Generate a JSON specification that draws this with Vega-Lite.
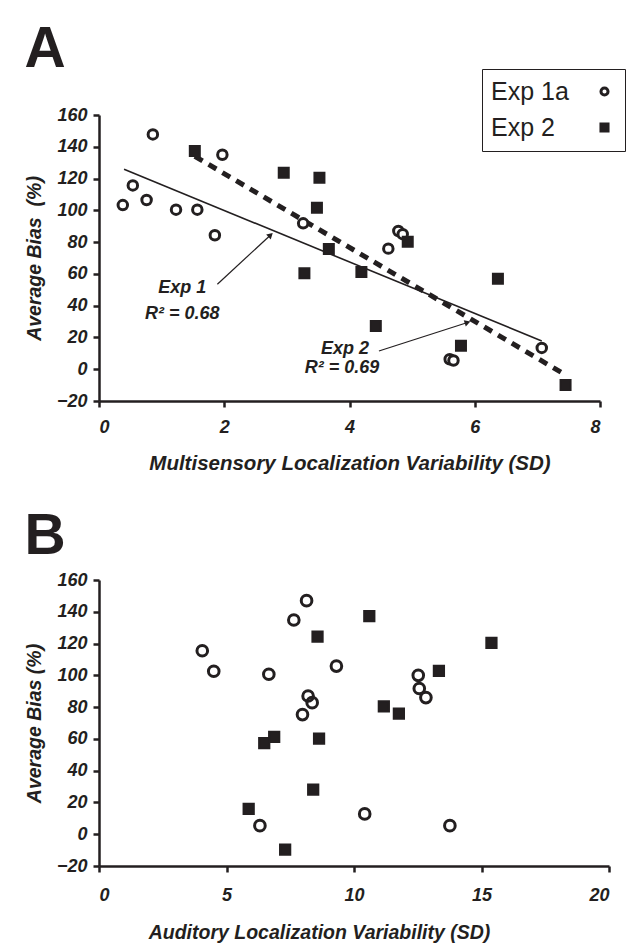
{
  "$schema": "https://vega.github.io/schema/vega-lite/v6.json",
  "padding": {"left": 24, "top": 20, "right": 5, "bottom": 2},
  "spacing": 33,
  "background": "white",
  "config": {
    "font": "Liberation Sans",
    "view": {"stroke": null},
    "axis": {
      "grid": false,
      "domainColor": "#231f20", "domainWidth": 2.5,
      "tickColor": "#231f20", "tickWidth": 2.5, "tickSize": 6,
      "labelFont": "Liberation Sans", "labelFontSize": 18, "labelFontWeight": "bold", "labelFontStyle": "italic", "labelColor": "#231f20",
      "titleFont": "Liberation Sans", "titleFontSize": 19.5, "titleFontWeight": "bold", "titleFontStyle": "italic", "titleColor": "#231f20"
    },
    "axisX": {"labelPadding": 11, "titlePadding": 15},
    "axisY": {"labelPadding": 6, "titlePadding": 12},
    "title": {"anchor": "start", "fontSize": 57, "fontWeight": "bold", "color": "#231f20", "font": "Liberation Sans"}
  },
  "datasets": {
    "pointsA": [
      {"series": "Exp 1a", "x": 0.38, "y": 103.3},
      {"series": "Exp 1a", "x": 0.54, "y": 115.7},
      {"series": "Exp 1a", "x": 0.76, "y": 106.5},
      {"series": "Exp 1a", "x": 0.86, "y": 147.8},
      {"series": "Exp 1a", "x": 1.23, "y": 100.4},
      {"series": "Exp 1a", "x": 1.57, "y": 100.4},
      {"series": "Exp 1a", "x": 1.85, "y": 84.3},
      {"series": "Exp 1a", "x": 1.97, "y": 135},
      {"series": "Exp 1a", "x": 3.26, "y": 91.8},
      {"series": "Exp 1a", "x": 4.62, "y": 75.9},
      {"series": "Exp 1a", "x": 4.78, "y": 87},
      {"series": "Exp 1a", "x": 4.85, "y": 85},
      {"series": "Exp 1a", "x": 5.6, "y": 6.3},
      {"series": "Exp 1a", "x": 5.66, "y": 5.5},
      {"series": "Exp 1a", "x": 7.07, "y": 13.4},
      {"series": "Exp 2", "x": 1.53, "y": 137.3},
      {"series": "Exp 2", "x": 2.95, "y": 123.7},
      {"series": "Exp 2", "x": 3.28, "y": 60.4},
      {"series": "Exp 2", "x": 3.48, "y": 101.7},
      {"series": "Exp 2", "x": 3.52, "y": 120.5},
      {"series": "Exp 2", "x": 3.67, "y": 75.7},
      {"series": "Exp 2", "x": 4.19, "y": 61.2},
      {"series": "Exp 2", "x": 4.42, "y": 27.2},
      {"series": "Exp 2", "x": 4.93, "y": 80.3},
      {"series": "Exp 2", "x": 5.78, "y": 14.7},
      {"series": "Exp 2", "x": 6.37, "y": 57},
      {"series": "Exp 2", "x": 7.45, "y": -10}
    ],
    "pointsB": [
      {"series": "Exp 1a", "x": 4.05, "y": 115.5},
      {"series": "Exp 1a", "x": 4.5, "y": 102.6},
      {"series": "Exp 1a", "x": 6.31, "y": 5.4},
      {"series": "Exp 1a", "x": 6.66, "y": 100.7},
      {"series": "Exp 1a", "x": 7.64, "y": 134.8},
      {"series": "Exp 1a", "x": 7.98, "y": 75.3},
      {"series": "Exp 1a", "x": 8.14, "y": 147},
      {"series": "Exp 1a", "x": 8.2, "y": 87},
      {"series": "Exp 1a", "x": 8.36, "y": 82.8},
      {"series": "Exp 1a", "x": 9.31, "y": 105.8},
      {"series": "Exp 1a", "x": 10.42, "y": 12.8},
      {"series": "Exp 1a", "x": 12.52, "y": 100},
      {"series": "Exp 1a", "x": 12.56, "y": 91.7},
      {"series": "Exp 1a", "x": 12.82, "y": 86},
      {"series": "Exp 1a", "x": 13.76, "y": 5.4},
      {"series": "Exp 2", "x": 5.87, "y": 16},
      {"series": "Exp 2", "x": 6.48, "y": 57.4},
      {"series": "Exp 2", "x": 6.87, "y": 61.2},
      {"series": "Exp 2", "x": 7.3, "y": -9.7},
      {"series": "Exp 2", "x": 8.4, "y": 28.1},
      {"series": "Exp 2", "x": 8.57, "y": 124.3},
      {"series": "Exp 2", "x": 8.63, "y": 60.1},
      {"series": "Exp 2", "x": 10.6, "y": 137.3},
      {"series": "Exp 2", "x": 11.17, "y": 80.5},
      {"series": "Exp 2", "x": 11.76, "y": 75.9},
      {"series": "Exp 2", "x": 13.33, "y": 102.8},
      {"series": "Exp 2", "x": 15.39, "y": 120.5}
    ],
    "linesA": [
      {"series": "Exp 1", "x": 0.4, "y": 125.8},
      {"series": "Exp 1", "x": 7.07, "y": 17.8},
      {"series": "Exp 2", "x": 1.53, "y": 134},
      {"series": "Exp 2", "x": 7.43, "y": -3.1}
    ],
    "arrowsA": [
      {"id": "Exp 1", "x": 1.89, "y": 53.5, "xe": 2.74, "ye": 84.5},
      {"id": "Exp 2", "x": 4.47, "y": 11.5, "xe": 5.885, "ye": 29.4}
    ],
    "labelsA": [
      {"label": "Exp 1", "x": 1.33, "y": 48.2},
      {"label": "R² = 0.68", "x": 1.33, "y": 31.4},
      {"label": "Exp 2", "x": 3.93, "y": 9.4},
      {"label": "R² = 0.69", "x": 3.88, "y": -2.1}
    ]
  },
  "vconcat": [
    {
      "title": {"text": "A", "offset": -10},
      "width": 501,
      "height": 286,
      "encoding": {
        "x": {"field": "x", "type": "quantitative", "scale": {"domain": [0, 8], "nice": false, "zero": false},
              "axis": {"values": [0, 2, 4, 6, 8], "title": "Multisensory Localization Variability (SD)", "titleFontSize": 20.5, "titlePadding": 17}},
        "y": {"field": "y", "type": "quantitative", "scale": {"domain": [-20, 160], "nice": false, "zero": false},
              "axis": {"values": [-20, 0, 20, 40, 60, 80, 100, 120, 140, 160], "title": "Average Bias\u00a0\u00a0(%)"}}
      },
      "layer": [
        {
          "data": {"name": "linesA"},
          "transform": [{"filter": "datum.series == 'Exp 1'"}],
          "mark": {"type": "line", "color": "#231f20", "strokeWidth": 1.6}
        },
        {
          "data": {"name": "linesA"},
          "transform": [{"filter": "datum.series == 'Exp 2'"}],
          "mark": {"type": "line", "color": "#231f20", "strokeWidth": 5, "strokeDash": [9, 7]}
        },
        {
          "data": {"name": "arrowsA"},
          "mark": {"type": "rule", "color": "#231f20", "strokeWidth": 1.2},
          "encoding": {"x2": {"field": "xe"}, "y2": {"field": "ye"}}
        },
        {
          "data": {"name": "arrowsA"},
          "transform": [{"filter": "datum.id == 'Exp 1'"}],
          "mark": {"type": "point", "shape": "triangle-up", "filled": true, "color": "#231f20", "size": 45, "angle": 47, "opacity": 1},
          "encoding": {"x": {"field": "xe", "type": "quantitative"}, "y": {"field": "ye", "type": "quantitative"}}
        },
        {
          "data": {"name": "arrowsA"},
          "transform": [{"filter": "datum.id == 'Exp 2'"}],
          "mark": {"type": "point", "shape": "triangle-up", "filled": true, "color": "#231f20", "size": 45, "angle": 72, "opacity": 1},
          "encoding": {"x": {"field": "xe", "type": "quantitative"}, "y": {"field": "ye", "type": "quantitative"}}
        },
        {
          "data": {"name": "labelsA"},
          "mark": {"type": "text", "font": "Liberation Sans", "fontSize": 18, "fontWeight": "bold", "fontStyle": "italic", "color": "#231f20", "align": "center", "baseline": "alphabetic"},
          "encoding": {"text": {"field": "label"}}
        },
        {
          "data": {"name": "pointsA"},
          "transform": [{"filter": "datum.series == 'Exp 1a'"}],
          "mark": {"type": "point", "filled": true, "strokeWidth": 3, "size": 90, "opacity": 1},
          "encoding": {
            "shape": {"field": "series", "type": "nominal", "scale": {"domain": ["Exp 1a", "Exp 2"], "range": ["circle", "square"]},
                      "legend": {"title": null, "orient": "none", "legendX": 383, "legendY": -46, "direction": "vertical",
                                 "labelFontSize": 25, "labelFont": "Liberation Sans", "labelColor": "#231f20",
                                 "symbolSize": 50, "symbolStrokeWidth": 3, "symbolStrokeColor": "#231f20",
                                 "symbolOffset": 100, "labelOffset": -126, "strokeColor": "#231f20",
                                 "padding": 10, "rowPadding": 10, "labelLimit": 300}},
            "fill": {"field": "series", "type": "nominal", "scale": {"domain": ["Exp 1a", "Exp 2"], "range": ["white", "#231f20"]}},
            "stroke": {"field": "series", "type": "nominal", "scale": {"domain": ["Exp 1a", "Exp 2"], "range": ["#231f20", "#231f20"]}}
          }
        },
        {
          "data": {"name": "pointsA"},
          "transform": [{"filter": "datum.series == 'Exp 2'"}],
          "mark": {"type": "point", "filled": true, "strokeWidth": 2, "size": 100, "opacity": 1},
          "encoding": {
            "shape": {"field": "series", "type": "nominal", "scale": {"domain": ["Exp 1a", "Exp 2"], "range": ["circle", "square"]}},
            "fill": {"field": "series", "type": "nominal", "scale": {"domain": ["Exp 1a", "Exp 2"], "range": ["white", "#231f20"]}},
            "stroke": {"field": "series", "type": "nominal", "scale": {"domain": ["Exp 1a", "Exp 2"], "range": ["#231f20", "#231f20"]}}
          }
        }
      ]
    },
    {
      "title": {"text": "B", "offset": 5.5},
      "width": 510,
      "height": 286,
      "data": {"name": "pointsB"},
      "encoding": {
        "x": {"field": "x", "type": "quantitative", "scale": {"domain": [0, 20], "nice": false, "zero": false},
              "axis": {"values": [0, 5, 10, 15, 20], "title": "Auditory Localization Variability (SD)", "titleX": 220, "titleFontSize": 19.5, "labelPadding": 14, "titlePadding": 19}},
        "y": {"field": "y", "type": "quantitative", "scale": {"domain": [-20, 160], "nice": false, "zero": false},
              "axis": {"values": [-20, 0, 20, 40, 60, 80, 100, 120, 140, 160], "title": "Average Bias (%)"}}
      },
      "layer": [
        {
          "transform": [{"filter": "datum.series == 'Exp 1a'"}],
          "mark": {"type": "point", "shape": "circle", "filled": false, "stroke": "#231f20", "strokeWidth": 3, "size": 113, "opacity": 1}
        },
        {
          "transform": [{"filter": "datum.series == 'Exp 2'"}],
          "mark": {"type": "point", "shape": "square", "filled": true, "color": "#231f20", "stroke": "#231f20", "strokeWidth": 2, "size": 105, "opacity": 1}
        }
      ]
    }
  ],
  "resolve": {
    "scale": {"shape": "independent", "fill": "independent", "stroke": "independent"},
    "legend": {"shape": "independent", "fill": "independent", "stroke": "independent"}
  }
}
